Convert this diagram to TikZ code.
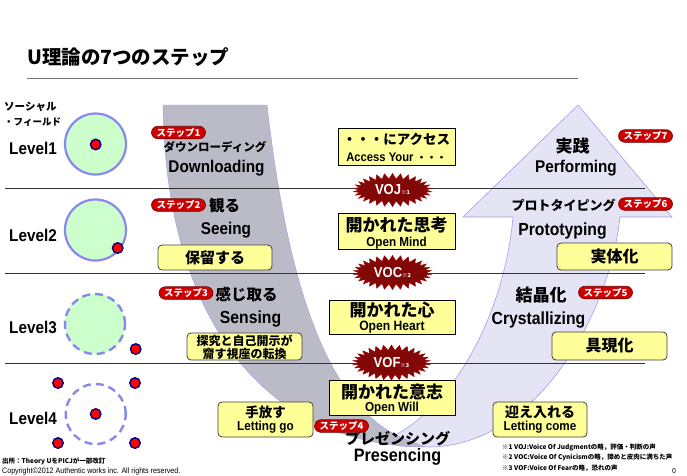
\documentclass[tikz,border=0pt]{standalone}
\usepackage{fontspec}
\setmainfont{Noto Sans CJK JP}
\newfontfamily\lat{Liberation Sans}[FakeStretch=0.9]
\usetikzlibrary{shapes.symbols,shapes.misc}
\newcommand\uFs[1]{\fontsize{#1}{#1}\selectfont}
\definecolor{uGray}{RGB}{187,187,200}
\definecolor{uLav}{RGB}{228,228,245}
\definecolor{uLine}{RGB}{160,160,235}
\definecolor{cGreen}{RGB}{204,255,204}
\definecolor{cRing}{RGB}{136,136,238}
\definecolor{bYel}{RGB}{255,255,153}
\definecolor{bRed}{RGB}{206,0,0}
\definecolor{bRedD}{RGB}{110,0,0}
\definecolor{sBurst}{RGB}{130,8,8}
\definecolor{dotNavy}{RGB}{0,0,128}
\tikzset{
  jt/.style={inner sep=0pt, text=black},
  badge/.style={rounded rectangle, fill=bRed, draw=bRedD, line width=0.6pt, text=white,
    font=\bfseries\uFs{9.5}, inner sep=0pt, minimum width=54pt, minimum height=12.5pt},
  ybox/.style={fill=bYel, draw=black, line width=0.9pt, inner sep=0pt},
  rbox/.style={fill=bYel, draw=black!75, line width=0.8pt, inner sep=0pt, rounded corners=4pt},
  burst/.style={starburst, fill=sBurst, draw=red!60!black, line width=0.5pt,
    starburst points=30, starburst point height=5.5pt, random starburst=0,
    inner sep=0pt, text=white},
  sepline/.style={draw=black!80, line width=0.8pt},
  ring/.style={circle, fill=cGreen, draw=cRing, line width=2.2pt, inner sep=0pt, minimum size=61pt},
  dring/.style={circle, draw=cRing, line width=2.4pt, dash pattern=on 8pt off 5pt, inner sep=0pt, minimum size=60pt},
  reddot/.style={circle, fill=red, draw=dotNavy, line width=1.4pt, inner sep=0pt, minimum size=10.5pt},
}
\begin{document}
\begin{tikzpicture}[x=1pt,y=-1pt]
\useasboundingbox[fill=white] (0,0) rectangle (687,475);

% U shape
\fill[uLav, draw=uLine, line width=0.6pt] (578,105) -- (672,217) -- (620,217)
  .. controls (610,310) and (540,445) .. (430,447) -- (400,446) -- (385,440)
  .. controls (455,410) and (505,310) .. (513,217) -- (463,217) -- cycle;
\fill[uGray, draw=uLine, line width=0.4pt] (163,105) -- (267,105)
  .. controls (285,260) and (320,410) .. (410,441) -- (425,447)
  .. controls (250,445) and (165,300) .. (163,105) -- cycle;

% title
\node[jt, anchor=west, font=\bfseries\uFs{19.5}] (title) at (27,57) {U理論の7つのステップ};
\draw[black!55, line width=0.8pt] (27,78) -- (578,78);

% separators
\draw[sepline] (5,188) -- (645,188);
\draw[sepline] (5,273) -- (645,273);
\draw[sepline] (5,363) -- (645,363);

% left labels
\node[jt, anchor=west, font=\bfseries\uFs{10.5}] (sl1) at (4,107) {ソーシャル};
\node[jt, anchor=west, font=\bfseries\uFs{9.5}] (sl2) at (4,122.5) {・フィールド};
\node[jt, anchor=west, font=\lat\bfseries\uFs{17}] (lv1) at (9,148.5) {Level1};
\node[jt, anchor=west, font=\lat\bfseries\uFs{17}] (lv2) at (9,235) {Level2};
\node[jt, anchor=west, font=\lat\bfseries\uFs{17}] (lv3) at (9,327.5) {Level3};
\node[jt, anchor=west, font=\lat\bfseries\uFs{17}] (lv4) at (9,418.5) {Level4};

% circles
\node[ring] (c1) at (95.5,144) {};
\node[reddot] (d1) at (95.7,144.5) {};
\node[ring] (c2) at (95.5,230) {};
\node[reddot] (d2) at (117.7,248) {};
\node[ring, draw=none] (c3f) at (95,324) {};
\node[dring] (c3) at (95,324) {};
\node[reddot] (d3) at (135.7,349) {};
\node[dring] (c4) at (95.7,414) {};
\node[reddot] (d4c) at (95.7,414) {};
\node[reddot] (d4a) at (58,383) {};
\node[reddot] (d4b) at (135,383) {};
\node[reddot] (d4d) at (58,443) {};
\node[reddot] (d4e) at (135,443) {};

% left column texts
\node[jt, font=\bfseries\uFs{11.5}] (t1j) at (215,147.5) {ダウンローディング};
\node[jt, font=\lat\bfseries\uFs{17}] (t1e) at (216.5,168.5) {Downloading};
\node[jt, font=\bfseries\uFs{15.5}] (t2j) at (224.5,205.5) {観る};
\node[jt, font=\lat\bfseries\uFs{17}] (t2e) at (226,230) {Seeing};
\node[rbox, minimum width=114pt, minimum height=25pt] (hold) at (215,257.5) {};
\node[jt, font=\bfseries\uFs{15}] (holdt) at (hold.center) {保留する};
\node[jt, font=\bfseries\uFs{15.5}] (t3j) at (246.5,294.5) {感じ取る};
\node[jt, font=\lat\bfseries\uFs{17.5}] (t3e) at (250.5,319.5) {Sensing};
\node[rbox, minimum width=115pt, minimum height=27pt] (inq) at (244.5,346.5) {};
\node[jt, font=\bfseries\uFs{12}] (inq1) at (244.5,340.5) {探究と自己開示が};
\node[jt, font=\bfseries\uFs{12}] (inq2) at (244.5,353.5) {齎す視座の転換};
\node[rbox, minimum width=95pt, minimum height=35pt] (let) at (265.5,419.5) {};
\node[jt, font=\bfseries\uFs{13.5}] (let1) at (265.5,412.5) {手放す};
\node[jt, font=\lat\bfseries\uFs{13}] (let2) at (265.5,427.5) {Letting go};

% middle boxes
\node[ybox, minimum width=117pt, minimum height=37pt] (acc) at (396.5,146.5) {};
\node[jt, font=\bfseries\uFs{13.5}] (acc1) at (396.5,139.5) {・・・にアクセス};
\node[jt] (acc2) at (396.5,157.5) {\lat\bfseries\uFs{12.5}Access Your {\normalfont\bfseries\uFs{10}・・・}};
\node[ybox, minimum width=117pt, minimum height=36pt] (mind) at (396.5,231) {};
\node[jt, font=\bfseries\uFs{17}] (mind1) at (396.5,225) {開かれた思考};
\node[jt, font=\lat\bfseries\uFs{13}] (mind2) at (396.5,243) {Open Mind};
\node[ybox, minimum width=126pt, minimum height=34pt] (heart) at (392,317) {};
\node[jt, font=\bfseries\uFs{17}] (heart1) at (392,310.5) {開かれた心};
\node[jt, font=\lat\bfseries\uFs{13.5}] (heart2) at (392,327.5) {Open Heart};
\node[ybox, minimum width=126pt, minimum height=35pt] (will) at (392,397.5) {};
\node[jt, font=\bfseries\uFs{17}] (will1) at (392,392.5) {開かれた意志};
\node[jt, font=\lat\bfseries\uFs{13}] (will2) at (392,408) {Open Will};

% starbursts
\node[burst, minimum width=78pt, minimum height=33pt] (voj) at (392.5,190)
  {\lat\bfseries\uFs{14.5}VOJ{\normalfont\bfseries\uFs{5.5}※1}};
\node[burst, minimum width=78pt, minimum height=34pt] (voc) at (392.5,272.5)
  {\lat\bfseries\uFs{14.5}VOC{\normalfont\bfseries\uFs{5.5}※2}};
\node[burst, minimum width=77pt, minimum height=35pt] (vof) at (391.5,362.5)
  {\lat\bfseries\uFs{14.5}VOF{\normalfont\bfseries\uFs{5.5}※3}};

% bottom
\node[jt, font=\bfseries\uFs{15}] (t4j) at (397.5,438.5) {プレゼンシング};
\node[jt, font=\lat\bfseries\uFs{18}] (t4e) at (397.5,456.5) {Presencing};

% right column
\node[jt, font=\bfseries\uFs{17}] (t7j) at (572.5,146.5) {実践};
\node[jt, font=\lat\bfseries\uFs{17}] (t7e) at (576,168.5) {Performing};
\node[jt, font=\bfseries\uFs{13}] (t6j) at (563.5,205) {プロトタイピング};
\node[jt, font=\lat\bfseries\uFs{17.5}] (t6e) at (562.5,231.5) {Prototyping};
\node[rbox, minimum width=115pt, minimum height=27pt] (emb) at (614.5,256.5) {};
\node[jt, font=\bfseries\uFs{16}] (embt) at (emb.center) {実体化};
\node[jt, font=\bfseries\uFs{17}] (t5j) at (541,295.5) {結晶化};
\node[jt, font=\lat\bfseries\uFs{17.5}] (t5e) at (538.5,320) {Crystallizing};
\node[rbox, minimum width=115pt, minimum height=28pt] (emb2) at (609.5,346) {};
\node[jt, font=\bfseries\uFs{16}] (emb2t) at (emb2.center) {具現化};
\node[rbox, minimum width=94pt, minimum height=35pt] (come) at (540,419.5) {};
\node[jt, font=\bfseries\uFs{14}] (come1) at (540,412) {迎え入れる};
\node[jt, font=\lat\bfseries\uFs{13}] (come2) at (540,427.5) {Letting come};

% badges
\node[badge] (b1) at (178.5,132.5) {ステップ1};
\node[badge] (b2) at (178.5,205) {ステップ2};
\node[badge] (b3) at (186,293) {ステップ3};
\node[badge] (b4) at (341.5,426) {ステップ4};
\node[badge] (b5) at (605.5,292.5) {ステップ5};
\node[badge] (b6) at (645.5,204) {ステップ6};
\node[badge] (b7) at (645.5,136) {ステップ7};

% notes
\node[jt, anchor=west, font=\bfseries\uFs{6.5}] (n1) at (502,447) {※1 VOJ:Voice Of Judgmentの略，評価・判断の声};
\node[jt, anchor=west, font=\bfseries\uFs{6.5}] (n2) at (502,457) {※2 VOC:Voice Of Cynicismの略，諦めと皮肉に満ちた声};
\node[jt, anchor=west, font=\bfseries\uFs{6.5}] (n3) at (502,468) {※3 VOF:Voice Of Fearの略，恐れの声};
\node[jt, font=\uFs{7}] (pg) at (674,471) {0};
\node[jt, anchor=west, font=\bfseries\uFs{6.5}] (src) at (2,461.5) {出所：Theory UをPICJが一部改訂};
\node[jt, anchor=west, font=\lat\uFs{7.9}] (copy) at (2,471) {Copyright©2012 Authentic works inc. All rights reserved.};
\end{tikzpicture}
\end{document}
